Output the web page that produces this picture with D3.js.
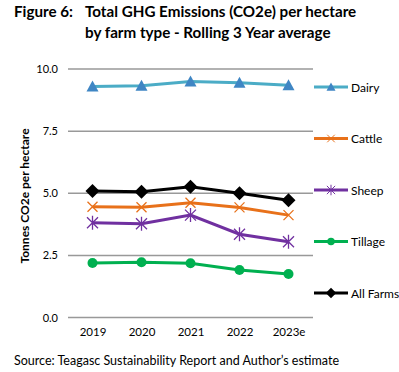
<!DOCTYPE html>
<html>
<head>
<meta charset="utf-8">
<script src="https://cdn.jsdelivr.net/npm/d3@7"></script>
<style>
  body { margin: 0; background: #fff; }
  svg { font-family: Lato, "Open Sans", sans-serif; }
</style>
</head>
<body>
<div id="chart"></div>
<script>
// chart data
var years = ["2019", "2020", "2021", "2022", "2023e"];
var dairy = [9.3, 9.33, 9.5, 9.45, 9.35];
var cattle = [4.46, 4.44, 4.62, 4.43, 4.12];
var sheep = [3.81, 3.77, 4.12, 3.35, 3.05];
var tillage = [2.19, 2.22, 2.18, 1.91, 1.75];
var allFarms = [5.09, 5.06, 5.26, 5.0, 4.72];
var yTicks = [0, 2.5, 5, 7.5, 10];

var seriesList = [
  { name: "Dairy", values: dairy, color: "#4BACC6", markColor: "#3F86C4", mark: "triangle" },
  { name: "Cattle", values: cattle, color: "#E8711A", markColor: "#E8711A", mark: "cross" },
  { name: "Sheep", values: sheep, color: "#7030A0", markColor: "#7030A0", mark: "star" },
  { name: "Tillage", values: tillage, color: "#00B050", markColor: "#00B050", mark: "circle" },
  { name: "All Farms", values: allFarms, color: "#000000", markColor: "#000000", mark: "diamond" }
];

var svgWidth = 399;
var svgHeight = 372;
var plot = { left: 68, right: 313, top: 69, bottom: 317.5 };

var svg = d3.select("#chart")
  .append("svg")
  .attr("width", svgWidth)
  .attr("height", svgHeight);

// title
svg.append("text")
  .attr("x", 14).attr("y", 17)
  .attr("font-size", 15.2).attr("font-weight", "bold")
  .text("Figure 6:");
svg.append("text")
  .attr("x", 85).attr("y", 17)
  .attr("font-size", 15.2).attr("font-weight", "bold")
  .text("Total GHG Emissions (CO2e) per hectare");
svg.append("text")
  .attr("x", 85).attr("y", 38)
  .attr("font-size", 15.2).attr("font-weight", "bold")
  .text("by farm type - Rolling 3 Year average");

var xScale = d3.scalePoint()
  .domain(years)
  .range([plot.left, plot.right])
  .padding(0.5);

var yScale = d3.scaleLinear()
  .domain([0, 10])
  .range([plot.bottom, plot.top]);

// gridlines
svg.append("g")
  .selectAll("line")
  .data(yTicks)
  .enter()
  .append("line")
  .attr("x1", plot.left)
  .attr("x2", plot.right)
  .attr("y1", d => yScale(d))
  .attr("y2", d => yScale(d))
  .attr("stroke", "#999")
  .attr("stroke-width", 1.5);

// y axis labels
var leftAxis = d3.axisLeft(yScale)
  .tickValues(yTicks)
  .tickFormat(d3.format(".1f"))
  .tickSize(0)
  .tickPadding(10);

var yAxis = svg.append("g")
  .attr("transform", `translate(${plot.left}, 0)`)
  .call(leftAxis);
yAxis.select(".domain").remove();
yAxis.selectAll("text")
  .attr("font-family", "Lato, sans-serif")
  .attr("font-size", 11)
  .attr("fill", "#000");

// x axis labels
var bottomAxis = d3.axisBottom(xScale)
  .tickSize(0)
  .tickPadding(10);

var xAxis = svg.append("g")
  .attr("transform", `translate(0, ${plot.bottom})`)
  .call(bottomAxis);
xAxis.select(".domain").remove();
xAxis.selectAll("text")
  .attr("font-family", "Lato, sans-serif")
  .attr("font-size", 11.5)
  .attr("fill", "#000");

// y axis title
svg.append("text")
  .attr("transform", "translate(29, 196) rotate(-90)")
  .attr("text-anchor", "middle")
  .attr("font-size", 12)
  .attr("font-weight", "bold")
  .text("Tonnes CO2e per hectare");

// marker drawing
function drawMark(g, type, color) {
  if (type === "triangle") {
    g.append("path").attr("d", "M0,-6L6,5L-6,5Z").attr("fill", color);
  } else if (type === "cross") {
    g.append("path").attr("d", "M-5,-5L5,5M-5,5L5,-5")
      .attr("stroke", color).attr("stroke-width", 1.3).attr("fill", "none");
  } else if (type === "star") {
    g.append("path").attr("d", "M-5.5,-5.5L5.5,5.5M-5.5,5.5L5.5,-5.5M0,-7L0,7")
      .attr("stroke", color).attr("stroke-width", 1.3).attr("fill", "none");
  } else if (type === "circle") {
    g.append("circle").attr("r", 5).attr("fill", color);
  } else if (type === "diamond") {
    g.append("path").attr("d", "M0,-7L7,0L0,7L-7,0Z").attr("fill", color);
  }
}

var line = d3.line()
  .x((d, i) => xScale(years[i]))
  .y(d => yScale(d));

seriesList.forEach(function(s) {
  var g = svg.append("g");
  g.append("path")
    .datum(s.values)
    .attr("d", line)
    .attr("fill", "none")
    .attr("stroke", s.color)
    .attr("stroke-width", 3);
  s.values.forEach(function(v, i) {
    var m = g.append("g")
      .attr("transform", `translate(${xScale(years[i])}, ${yScale(v)})`);
    drawMark(m, s.mark, s.markColor);
  });
});

// legend
var legendY = d3.scalePoint()
  .domain(seriesList.map(s => s.name))
  .range([87, 293]);

seriesList.forEach(function(s) {
  var lg = svg.append("g")
    .attr("transform", `translate(314, ${legendY(s.name)})`);
  lg.append("line")
    .attr("x1", 0).attr("x2", 34)
    .attr("stroke", s.color).attr("stroke-width", 3);
  var m = lg.append("g").attr("transform", "translate(17, 0) scale(0.75)");
  drawMark(m, s.mark, s.markColor);
  lg.append("text")
    .attr("x", 37).attr("y", 4.5)
    .attr("font-size", 12)
    .text(s.name);
});

// source
svg.append("text")
  .attr("x", 14).attr("y", 365)
  .attr("font-size", 12.5)
  .text("Source: Teagasc Sustainability Report and Author\u2019s estimate");
</script>
</body>
</html>
